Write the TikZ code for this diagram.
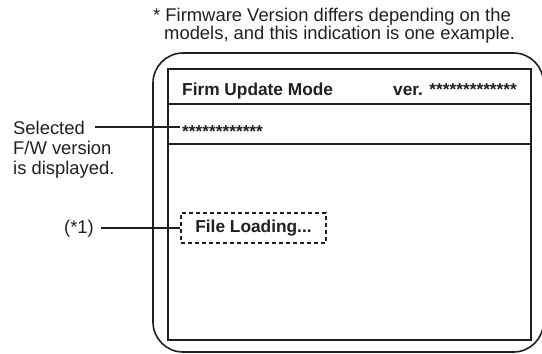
\documentclass[tikz,border=0pt]{standalone}
\usepackage{fontspec}
\setmainfont{Liberation Sans}
\usetikzlibrary{positioning}
\definecolor{ink}{RGB}{35,31,32}
\tikzset{
  note text/.style={inner sep=0pt, anchor=base west, text=ink, font=\fontsize{18.4}{20}\selectfont},
  screen text/.style={inner sep=0pt, anchor=base west, text=ink, font=\fontsize{17.3}{20}\selectfont\bfseries},
  leader/.style={draw=ink, line width=2pt},
}
\begin{document}
\begin{tikzpicture}[x=1pt,y=-1pt]
\useasboundingbox (0,0) rectangle (542,354);
\coordinate (O1) at (153,53); \coordinate (O2) at (543.5,352);
\coordinate (I1) at (168,69); \coordinate (I2) at (531,340);
\draw[ink, line width=1.6pt, rounded corners=30pt] (O1) rectangle (O2);
\draw[ink, line width=1.3pt] (I1) rectangle (I2);
\draw[ink, line width=1.3pt] (168,104) -- (531,104) (168,144) -- (531,144);
% note above the screen
\node[note text] (note1) at (153,21) {* Firmware Version differs depending on the};
\node[note text] (note2) at (164,39.5) {models, and this indication is one example.};
% screen contents
\node[screen text] (mode) at (182,95) {Firm Update Mode};
\node[screen text] (ver) at (393,95) {ver. *************};
\node[screen text] (stars) at (182,137) {************};
\node[screen text, anchor=center, draw=ink, line width=1.2pt, dash pattern=on 4pt off 3pt,
      minimum width=145pt, minimum height=30pt] (loading) at (253.5,228) {File Loading...};
% callouts on the left
\node[note text] (sel1) at (13,134) {Selected};
\node[note text] (sel2) at (13,154) {F/W version};
\node[note text] (sel3) at (13,174) {is displayed.};
\node[note text] (mark) at (64,233) {(*1)};
\draw[leader] ([xshift=10pt]sel1.east) -- ([xshift=-2pt]sel1.east -| stars.west);
\draw[leader] ([xshift=7pt]mark.east) -- (mark.east -| loading.west);
\end{tikzpicture}
\end{document}
